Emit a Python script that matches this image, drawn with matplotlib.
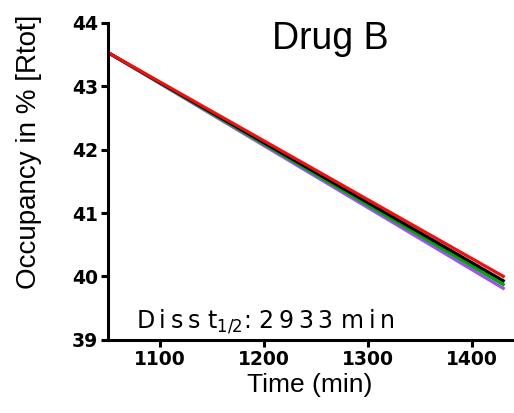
import matplotlib
matplotlib.use('Agg')
import matplotlib.pyplot as plt

# Время (мин) и занятость рецептора для четырёх кривых
time = [1050, 1431]
occ_purple = [43.53, 39.80]
occ_green = [43.53, 39.86]
occ_black = [43.53, 39.92]
occ_red = [43.53, 39.99]

x_ticks = [1100, 1200, 1300, 1400]
y_ticks = [39, 40, 41, 42, 43, 44]

t_half = 2933


def spaced(s):
    # разрядка между буквами (два hair space)
    return '\u200a\u200a'.join(s)


fig = plt.figure(figsize=(5.14, 4.13), dpi=100)
ax = fig.add_axes([0.210, 0.177, 0.79, 0.768])

ax.plot(time, occ_purple, color='#a050f5', lw=2.3, solid_capstyle='butt')
ax.plot(time, occ_green, color='#00a800', lw=2.3, solid_capstyle='butt')
ax.plot(time, occ_black, color='black', lw=2.3, solid_capstyle='butt')
ax.plot(time, occ_red, color='#f01010', lw=2.3, solid_capstyle='butt')

ax.set_xlim(1050, 1440)
ax.set_ylim(39, 44)
ax.set_xticks(x_ticks)
ax.set_yticks(y_ticks)

for s in ['top', 'right']:
    ax.spines[s].set_visible(False)
for s in ['left', 'bottom']:
    ax.spines[s].set_linewidth(2.2)

ax.tick_params(direction='out', length=5, width=2.2, pad=2)
for lab in ax.get_xticklabels() + ax.get_yticklabels():
    lab.set_fontfamily('DejaVu Sans')
    lab.set_fontweight('bold')
    lab.set_fontsize(13.5)

ax.set_xlabel('Time (min)', family='Liberation Sans', fontsize=19)
ax.set_ylabel('Occupancy in % [Rtot]', family='Liberation Sans', fontsize=20)
ax.xaxis.set_label_coords(0.498, -0.105)
ax.yaxis.set_label_coords(-0.163, 0.593)

fig.text(0.642, 0.905, 'Drug B', family='Liberation Sans', fontsize=27, ha='center', va='center')
label = spaced('Diss') + ' t$_{1/2}$: ' + spaced(str(t_half)) + ' ' + spaced('min')
ax.text(1077, 39.18, label, family='DejaVu Sans', fontsize=17)

fig.savefig('out.png', dpi=100)
